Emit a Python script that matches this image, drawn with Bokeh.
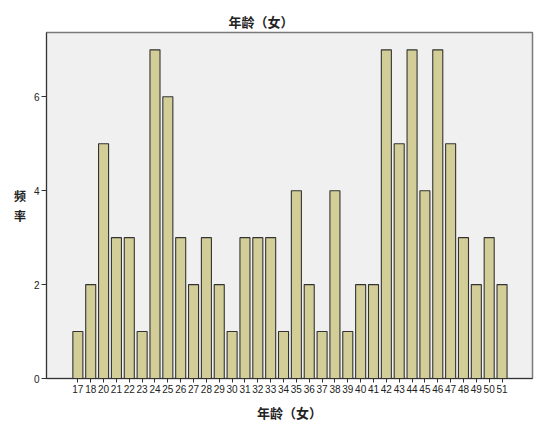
from bokeh.plotting import figure
from bokeh.models import Range1d, FixedTicker, ColumnDataSource
from bokeh.embed import file_html
from bokeh.resources import INLINE

ages = ["17", "18", "20", "21", "22", "23", "24", "25", "26", "27", "28", "29",
        "30", "31", "32", "33", "34", "35", "36", "37", "38", "39", "40", "41",
        "42", "43", "44", "45", "46", "47", "48", "49", "50", "51"]
counts = [1, 2, 5, 3, 3, 1, 7, 6, 3, 2, 3, 2,
          1, 3, 3, 3, 1, 4, 2, 1, 4, 1, 2, 2,
          7, 5, 7, 4, 7, 5, 3, 2, 3, 2]
y_ticks = [0, 2, 4, 6]
title_text = "年龄（女）"
x_title = "年龄（女）"
y_title = "频\n率"

idx = list(range(len(ages)))
src = ColumnDataSource(dict(x=idx, top=counts))

cjk = "Noto Sans CJK SC"
p = figure(width=538, height=430, output_backend="svg", toolbar_location=None,
           x_range=Range1d(-2.44, len(ages) - 1 + 2.37), y_range=Range1d(0, 7.37),
           min_border_left=46, min_border_right=6, min_border_top=32, min_border_bottom=52,
           title=title_text)
p.background_fill_color = "#F0F0F0"
p.border_fill_color = "white"
p.outline_line_color = "#7A7A7A"
p.outline_line_width = 1.5
p.grid.visible = False

p.title.text_font = cjk
p.title.text_font_size = "13px"
p.title.text_font_style = "bold"
p.title.text_color = "#222222"
p.title.align = "left"
p.title.offset = 182
p.title.standoff = 3

p.vbar(x="x", top="top", width=0.78, source=src, fill_color="#D3CE98",
       line_color="#333333", line_width=1.1)

p.xaxis.ticker = FixedTicker(ticks=idx)
p.xaxis.major_label_overrides = {i: a for i, a in enumerate(ages)}
p.yaxis.ticker = FixedTicker(ticks=y_ticks)
for ax in (p.xaxis[0], p.yaxis[0]):
    ax.axis_line_color = "#333333"
    ax.major_tick_line_color = "#333333"
    ax.minor_tick_line_color = None
    ax.major_tick_in = 0
    ax.major_label_text_font = "Liberation Sans"
    ax.major_label_text_font_size = "10px"
    ax.major_label_text_color = "#222222"
    ax.major_label_standoff = 2
    ax.axis_label_text_font = cjk
    ax.axis_label_text_font_style = "bold"
    ax.axis_label_text_color = "#222222"
p.xaxis.major_tick_out = 4
p.yaxis.major_tick_out = 5

p.xaxis.axis_label = x_title
p.xaxis.axis_label_text_font_size = "13px"
p.xaxis.axis_label_standoff = 7
p.yaxis.axis_label = y_title
p.yaxis.axis_label_text_font_size = "12px"
p.yaxis.axis_label_orientation = "horizontal"
p.yaxis.axis_label_standoff = 5

open("out.html", "w").write(file_html(p, INLINE))
